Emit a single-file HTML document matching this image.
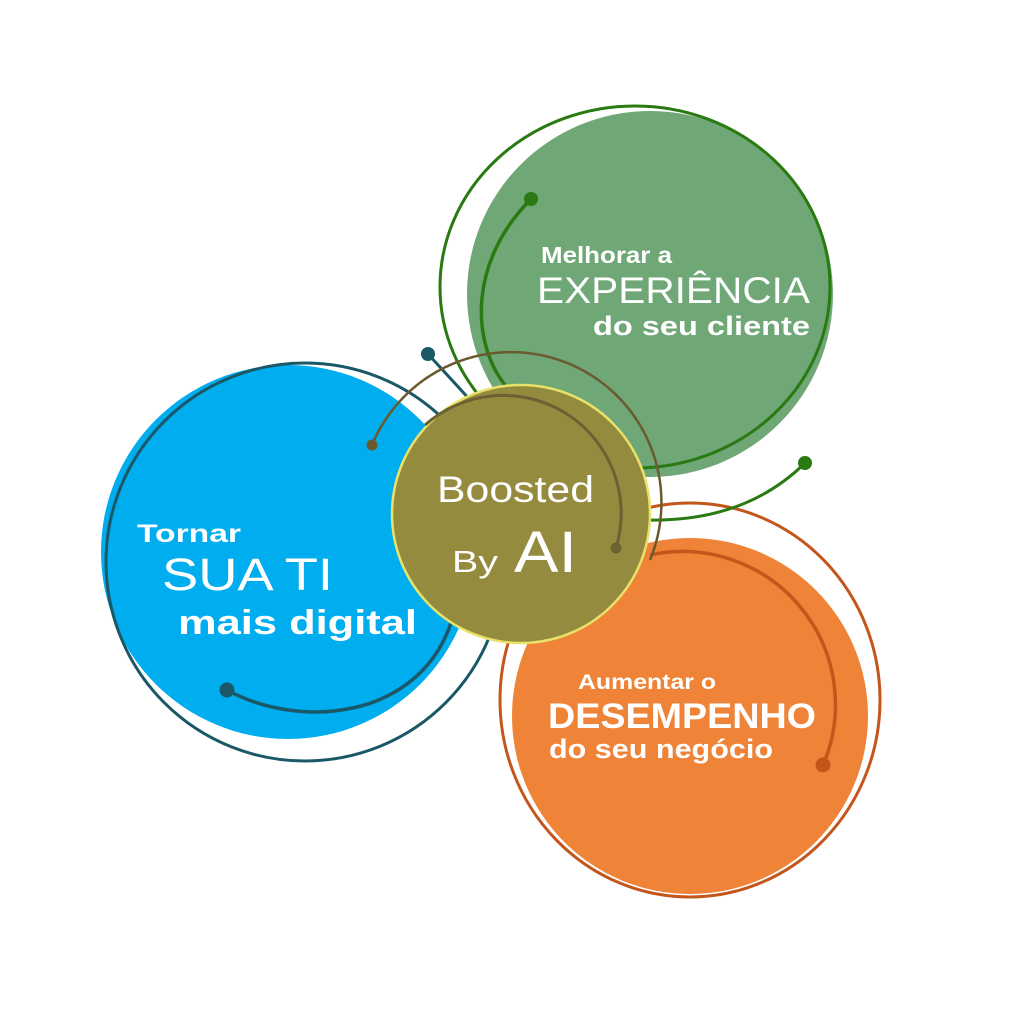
<!DOCTYPE html>
<html><head><meta charset="utf-8"><style>html,body{margin:0;padding:0;background:#fff}svg{display:block}</style></head>
<body>
<svg width="1024" height="1024" viewBox="0 0 1024 1024" xmlns="http://www.w3.org/2000/svg" font-family="Liberation Sans, sans-serif">
<rect width="1024" height="1024" fill="#fff"/>
<!-- orange -->
<circle cx="690" cy="716" r="178" fill="#ef8337"/>
<ellipse cx="690" cy="700" rx="190" ry="197" fill="none" stroke="#c4561c" stroke-width="3"/>
<!-- blue -->
<circle cx="288" cy="552" r="187" fill="#00adee"/>
<circle cx="305" cy="562" r="199" fill="none" stroke="#1a5868" stroke-width="3"/>
<line x1="428" y1="354" x2="472" y2="402" stroke="#1a5868" stroke-width="3"/>
<circle cx="428" cy="354" r="7" fill="#1a5868"/>
<!-- green -->
<circle cx="650" cy="294" r="183" fill="#70a777"/>
<ellipse cx="635" cy="287" rx="195" ry="181" fill="none" stroke="#2a7a12" stroke-width="3"/>
<path d="M531 199 C 470 260 470 340 505 385" fill="none" stroke="#2a7a12" stroke-width="3.5"/>
<circle cx="531" cy="199" r="7" fill="#2a7a12"/>
<path d="M648 520 Q 745 522 805 463" fill="none" stroke="#2a7a12" stroke-width="3"/>
<circle cx="805" cy="463" r="7" fill="#2a7a12"/>
<!-- inner arcs -->
<path d="M227 690 C 300 730 420 720 452 620 L 470 560" fill="none" stroke="#1a5868" stroke-width="3.5"/>
<circle cx="227" cy="690" r="7.5" fill="#1a5868"/>
<path d="M650 555 A 153 153 0 0 1 823 765" fill="none" stroke="#c4561c" stroke-width="3.5"/>
<circle cx="823" cy="765" r="7.5" fill="#c4561c"/>
<!-- brown ring -->
<path d="M372 445 A 150 150 0 1 1 650 560" fill="none" stroke="#6b5a2e" stroke-width="2.5"/>
<circle cx="372" cy="445" r="5.5" fill="#6b5a2e"/>
<!-- center -->
<circle cx="521" cy="514" r="129" fill="#958b3e" stroke="#e8e26a" stroke-width="2.5"/>
<path d="M425 425 A 118 118 0 0 1 616 548" fill="none" stroke="#6b6233" stroke-width="3"/>
<circle cx="616" cy="548" r="5.5" fill="#6b6233"/>
<!-- texts -->
<g fill="#fff" font-weight="bold">
<text x="541" y="263" font-size="23" textLength="131" lengthAdjust="spacingAndGlyphs">Melhorar a</text>
<text x="537" y="303" font-size="37" textLength="273" lengthAdjust="spacingAndGlyphs" font-weight="normal">EXPERIÊNCIA</text>
<text x="593" y="335" font-size="27" textLength="217" lengthAdjust="spacingAndGlyphs">do seu cliente</text>
<text x="137" y="542" font-size="25" textLength="104" lengthAdjust="spacingAndGlyphs">Tornar</text>
<text x="162" y="590" font-size="45" textLength="171" lengthAdjust="spacingAndGlyphs" font-weight="normal">SUA TI</text>
<text x="178" y="634" font-size="34" textLength="239" lengthAdjust="spacingAndGlyphs">mais digital</text>
<text x="578" y="689" font-size="21" textLength="138" lengthAdjust="spacingAndGlyphs">Aumentar o</text>
<text x="548" y="728" font-size="35" textLength="268" lengthAdjust="spacingAndGlyphs">DESEMPENHO</text>
<text x="549" y="758" font-size="27" textLength="224" lengthAdjust="spacingAndGlyphs">do seu negócio</text>
<text x="437" y="502" font-size="37" textLength="157" lengthAdjust="spacingAndGlyphs" font-weight="normal">Boosted</text>
<text x="452" y="572" font-size="31" textLength="46" lengthAdjust="spacingAndGlyphs" font-weight="normal">By</text>
<text x="514" y="572" font-size="58" textLength="63" lengthAdjust="spacingAndGlyphs" font-weight="normal">AI</text>
</g>
</svg>
</body></html>
